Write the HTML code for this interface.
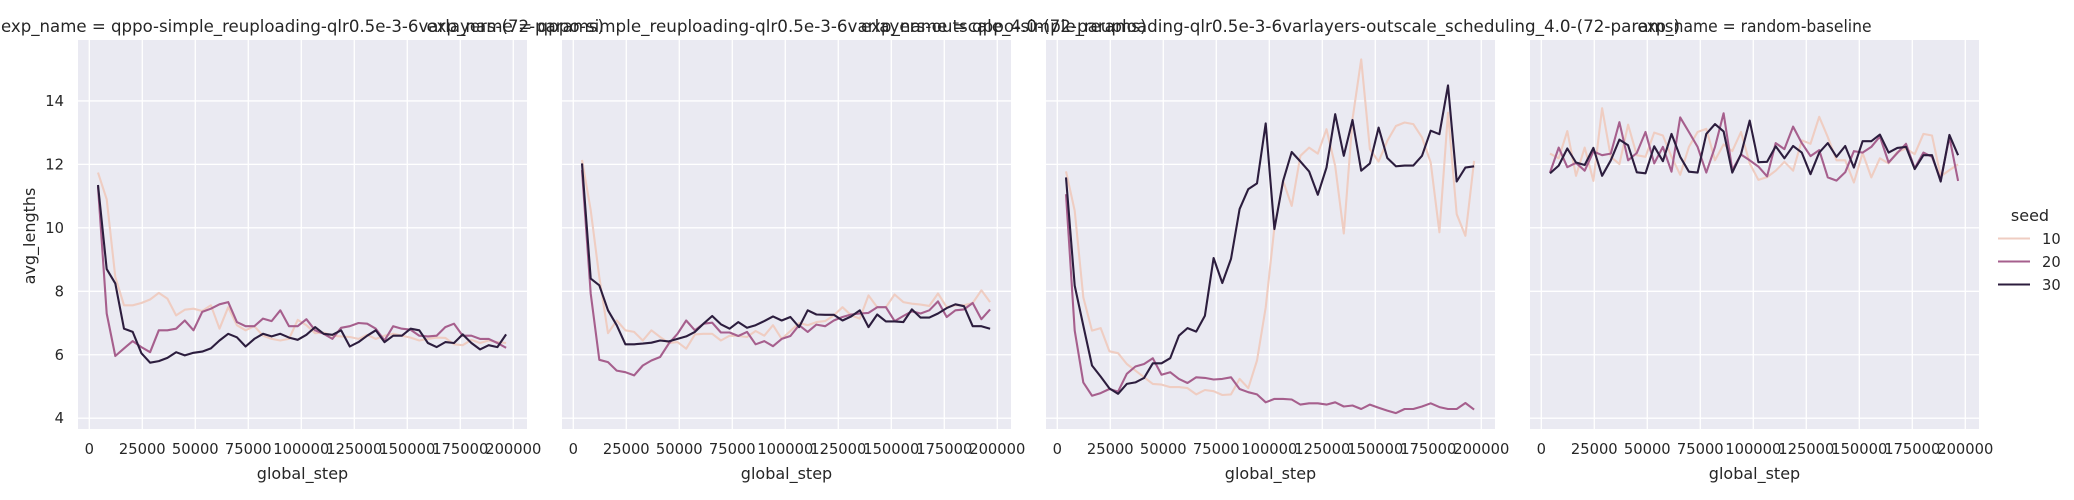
<!DOCTYPE html>
<html><head><meta charset="utf-8"><style>
html,body{margin:0;padding:0;background:#fff;}
svg{display:block;font-family:"DejaVu Sans","Liberation Sans",sans-serif;}
</style></head><body>
<svg id="chart" width="2074" height="500" viewBox="0 0 2074 500" xmlns="http://www.w3.org/2000/svg"></svg>
<script>
const panelTitles = [
  "exp_name = qppo-simple_reuploading-qlr0.5e-3-6varlayers-(72-params)",
  "exp_name = qppo-simple_reuploading-qlr0.5e-3-6varlayers-outscale_4.0-(72-params)",
  "exp_name = qppo-simple_reuploading-qlr0.5e-3-6varlayers-outscale_scheduling_4.0-(72-params)",
  "exp_name = random-baseline"
];
const seeds = ["10","20","30"];
const stepSize = 4096;
const xTicks = [0,25000,50000,75000,100000,125000,150000,175000,200000];
const yTicks = [4,6,8,10,12,14];

const p1s10 = [11.74,10.9,8.45,7.56,7.56,7.63,7.74,7.95,7.77,7.24,7.42,7.45,7.38,7.56,6.82,7.5,6.93,6.77,6.9,6.6,6.5,6.45,6.5,7.1,6.93,6.68,6.7,6.6,6.58,6.56,6.5,6.63,6.5,6.6,6.66,6.6,6.54,6.45,6.5,6.54,6.53,6.33,6.3,6.47,6.37,6.45,6.4,6.37];
const p1s20 = [11.3,7.3,5.96,6.2,6.43,6.24,6.08,6.77,6.77,6.82,7.08,6.77,7.35,7.45,7.59,7.66,7.03,6.9,6.9,7.14,7.06,7.4,6.9,6.9,7.12,6.77,6.66,6.5,6.85,6.9,7.0,6.98,6.82,6.45,6.9,6.82,6.79,6.6,6.58,6.6,6.87,6.98,6.6,6.6,6.5,6.5,6.37,6.22];
const p1s30 = [11.35,8.7,8.25,6.82,6.72,6.05,5.75,5.8,5.9,6.08,5.98,6.06,6.1,6.2,6.45,6.66,6.55,6.26,6.5,6.66,6.58,6.66,6.54,6.47,6.63,6.87,6.66,6.63,6.77,6.26,6.4,6.6,6.77,6.4,6.6,6.6,6.82,6.77,6.37,6.24,6.4,6.37,6.64,6.37,6.17,6.3,6.24,6.64];
const p2s10 = [12.14,10.56,8.45,6.68,7.08,6.77,6.72,6.45,6.77,6.56,6.37,6.4,6.19,6.64,6.66,6.66,6.45,6.6,6.59,6.56,6.75,6.6,6.93,6.5,6.75,7.0,6.93,7.03,7.06,7.24,7.5,7.24,7.14,7.87,7.5,7.5,7.9,7.66,7.61,7.58,7.54,7.93,7.5,7.56,7.56,7.63,8.03,7.66];
const p2s20 = [11.82,7.93,5.84,5.77,5.5,5.45,5.35,5.66,5.82,5.93,6.35,6.66,7.08,6.77,6.98,7.01,6.7,6.7,6.59,6.72,6.33,6.43,6.27,6.5,6.59,6.93,6.72,6.95,6.9,7.08,7.19,7.27,7.3,7.32,7.5,7.5,7.06,7.22,7.37,7.3,7.4,7.68,7.19,7.4,7.43,7.63,7.12,7.43];
const p2s30 = [12.03,8.4,8.19,7.4,6.93,6.33,6.33,6.35,6.38,6.45,6.42,6.5,6.58,6.72,6.98,7.22,6.96,6.82,7.03,6.85,6.93,7.06,7.21,7.08,7.19,6.87,7.4,7.27,7.26,7.26,7.08,7.21,7.4,6.87,7.27,7.05,7.05,7.03,7.43,7.17,7.17,7.3,7.47,7.59,7.53,6.9,6.9,6.82];
const p3s10 = [11.78,10.54,7.81,6.76,6.84,6.11,6.05,5.71,5.5,5.29,5.08,5.06,4.98,4.98,4.95,4.75,4.89,4.85,4.73,4.75,5.24,4.95,5.82,7.49,10.01,11.48,10.69,12.27,12.53,12.34,13.11,11.95,9.82,13.42,15.31,12.48,12.09,12.74,13.21,13.32,13.27,12.85,12.06,9.86,13.63,10.43,9.75,12.11];
const p3s20 = [11.06,6.76,5.13,4.71,4.79,4.92,4.84,5.4,5.63,5.71,5.89,5.37,5.45,5.24,5.11,5.29,5.27,5.22,5.24,5.29,4.92,4.82,4.75,4.5,4.61,4.61,4.59,4.43,4.47,4.47,4.43,4.5,4.37,4.4,4.29,4.43,4.33,4.24,4.16,4.29,4.29,4.37,4.47,4.35,4.29,4.29,4.48,4.27];
const p3s30 = [11.59,8.18,6.92,5.66,5.31,4.94,4.77,5.08,5.13,5.27,5.73,5.73,5.89,6.6,6.84,6.73,7.23,9.05,8.26,9.02,10.59,11.22,11.4,13.29,9.96,11.48,12.39,12.09,11.78,11.04,11.9,13.58,12.27,13.4,11.8,12.03,13.16,12.2,11.94,11.96,11.96,12.27,13.06,12.95,14.49,11.46,11.9,11.94];
const p4s10 = [12.34,12.19,13.05,11.64,12.53,11.48,13.77,12.24,12.01,13.25,12.29,12.24,13.0,12.91,12.24,11.67,12.55,13.02,13.12,12.13,12.63,12.42,13.02,12.03,11.51,11.6,11.8,12.08,11.8,12.76,12.65,13.5,12.86,12.13,12.13,11.43,12.36,11.59,12.19,12.03,12.39,12.5,12.32,12.96,12.91,11.62,11.82,12.0];
const p4s20 = [11.74,12.53,11.91,12.05,11.8,12.41,12.29,12.34,13.33,12.13,12.36,13.02,12.03,12.55,11.77,13.48,13.02,12.55,11.74,12.55,13.61,11.82,12.31,12.13,11.93,11.62,12.67,12.48,13.19,12.67,12.26,12.45,11.59,11.49,11.75,12.42,12.37,12.55,12.88,12.06,12.36,12.65,11.88,12.37,12.24,11.51,12.86,11.48];
const p4s30 = [11.72,11.96,12.5,12.06,11.98,12.52,11.64,12.13,12.78,12.6,11.75,11.72,12.57,12.1,12.96,12.24,11.77,11.74,12.96,13.27,13.04,11.74,12.32,13.38,12.07,12.08,12.57,12.19,12.58,12.37,11.69,12.37,12.67,12.24,12.58,11.9,12.73,12.73,12.94,12.37,12.52,12.55,11.85,12.29,12.29,11.46,12.93,12.29];

const panelSeries = [[p1s10,p1s20,p1s30],[p2s10,p2s20,p2s30],[p3s10,p3s20,p3s30],[p4s10,p4s20,p4s30]];
const colors = ["#efcdc2","#a65f8d","#2c1d3e"];
const NS = "http://www.w3.org/2000/svg";
const svg = document.getElementById("chart");
const panelLefts = [78,562,1046,1530];
const PW = 449, TOP = 40, BOTTOM = 429;
const xMin = -5330, xMax = 206470;
const yMin = 3.66, yMax = 15.92;
function yScale(v){ return BOTTOM - (v - yMin) / (yMax - yMin) * (BOTTOM - TOP); }
function mk(tag, attrs){ const e = document.createElementNS(NS, tag); for (const k in attrs) e.setAttribute(k, attrs[k]); svg.appendChild(e); return e; }

panelLefts.forEach((left, pi) => {
  const xScale = v => left + (v - xMin) / (xMax - xMin) * PW;
  const bg = mk("rect", {x:left, y:TOP, width:PW, height:BOTTOM-TOP, fill:"#eaeaf2"});
  
  
  xTicks.forEach(t => {
    const l = mk("line", {x1:xScale(t), x2:xScale(t), y1:TOP, y2:BOTTOM, stroke:"#fff", "stroke-width":1.3});
    
    
    const tx = mk("text", {x:xScale(t), y:454, "text-anchor":"middle", "font-size":"14.7", fill:"#262626"});
    tx.textContent = t;
    
    
  });
  yTicks.forEach(t => {
    const l = mk("line", {x1:left, x2:left+PW, y1:yScale(t), y2:yScale(t), stroke:"#fff", "stroke-width":1.3});
    
    
    if (pi === 0) {
      const tx = mk("text", {x:64, y:yScale(t)+5, "text-anchor":"end", "font-size":"14.7", fill:"#262626"});
      tx.textContent = t;
      
      
    }
  });
  panelSeries[pi].forEach((vals, si) => {
    const pts = vals.map((v, i) => xScale(stepSize*(i+1)).toFixed(1) + "," + yScale(v).toFixed(1)).join(" ");
    const pl = mk("polyline", {points:pts, fill:"none", stroke:colors[si], "stroke-width":2.1, "stroke-linejoin":"round"});
    
    
  });
  const tlen = panelTitles[pi].length * 9.0;
  const title = mk("text", {x:left+PW/2, y:32, "text-anchor":"middle", "font-size":"17", fill:"#262626", textLength:tlen, lengthAdjust:"spacingAndGlyphs"});
  title.textContent = panelTitles[pi];
  
  
  const xl = mk("text", {x:left+PW/2, y:479, "text-anchor":"middle", "font-size":"16", fill:"#262626"});
  xl.textContent = "global_step";
  
  
});
const yl = mk("text", {x:0, y:0, transform:"translate(35,236) rotate(-90)", "text-anchor":"middle", "font-size":"16", fill:"#262626"});
yl.textContent = "avg_lengths";



const lt = mk("text", {x:2030, y:221, "text-anchor":"middle", "font-size":"16", fill:"#262626"});
lt.textContent = "seed";


const legendY = [238.5, 261.5, 284.5];
seeds.forEach((s, i) => {
  const l = mk("line", {x1:1998, x2:2030, y1:legendY[i], y2:legendY[i], stroke:colors[i], "stroke-width":2.1});
  
  
  const t = mk("text", {x:2042, y:legendY[i]+5.5, "font-size":"14.7", fill:"#262626"});
  t.textContent = s;
  
  
});
</script>
</body></html>
